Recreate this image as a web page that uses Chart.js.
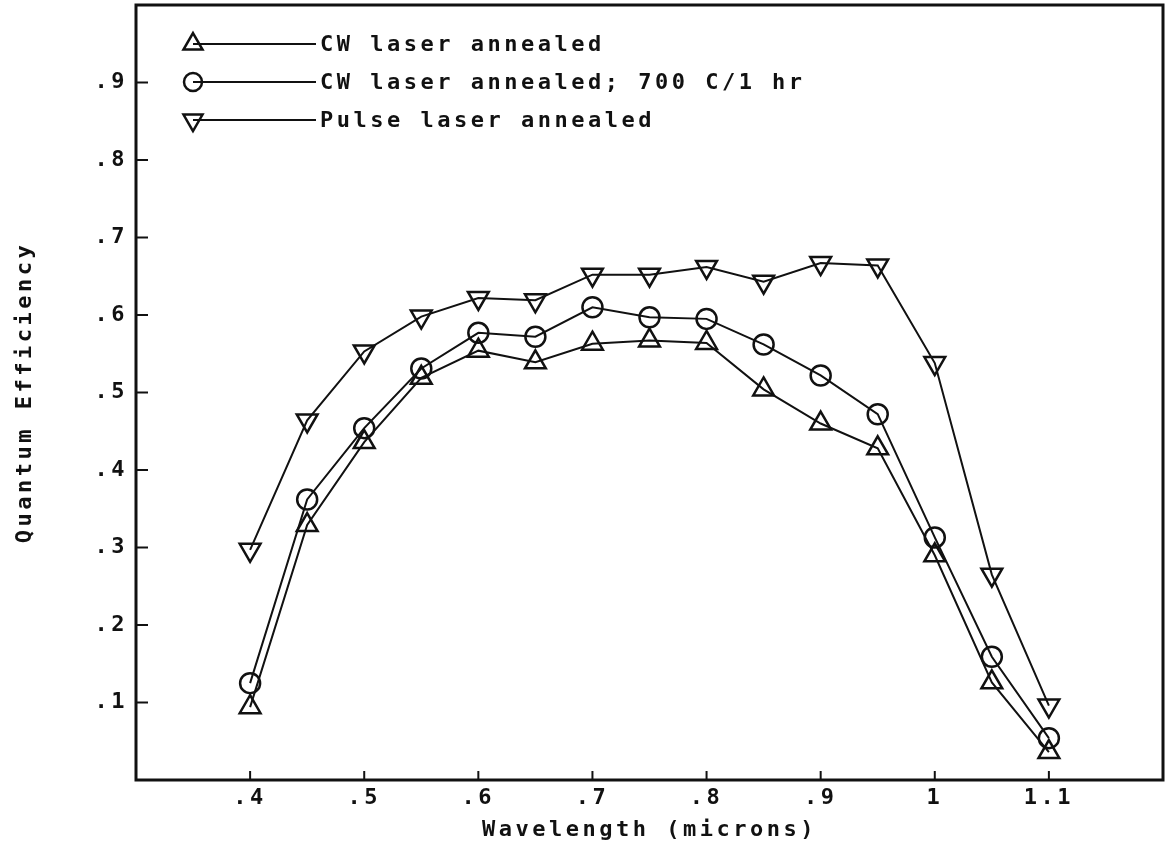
<!DOCTYPE html>
<html>
<head>
<meta charset="utf-8">
<script src="https://cdn.jsdelivr.net/npm/chart.js@4.4.1/dist/chart.umd.min.js"></script>
<style>
  html, body { margin: 0; padding: 0; background: #fff; }
</style>
</head>
<body>
<canvas id="qeChart" width="1171" height="849"></canvas>
<script>
const wavelengths = [0.40, 0.45, 0.50, 0.55, 0.60, 0.65, 0.70, 0.75, 0.80, 0.85, 0.90, 0.95, 1.00, 1.05, 1.10];
const cwAnnealed = [0.094, 0.329, 0.436, 0.519, 0.554, 0.539, 0.563, 0.567, 0.564, 0.504, 0.460, 0.428, 0.290, 0.126, 0.036];
const cwAnnealed700 = [0.125, 0.362, 0.454, 0.531, 0.577, 0.572, 0.610, 0.597, 0.595, 0.562, 0.522, 0.472, 0.313, 0.159, 0.054];
const pulseAnnealed = [0.297, 0.464, 0.553, 0.598, 0.622, 0.619, 0.652, 0.652, 0.662, 0.643, 0.667, 0.664, 0.538, 0.265, 0.096];

const seriesNames = ['CW laser annealed', 'CW laser annealed; 700 C/1 hr', 'Pulse laser annealed'];

const xTickValues = [0.4, 0.5, 0.6, 0.7, 0.8, 0.9, 1.0, 1.1];
const xTickLabels = ['.4', '.5', '.6', '.7', '.8', '.9', '1', '1.1'];
const yTickValues = [0.1, 0.2, 0.3, 0.4, 0.5, 0.6, 0.7, 0.8, 0.9];
const yTickLabels = ['.1', '.2', '.3', '.4', '.5', '.6', '.7', '.8', '.9'];

const INK = '#111111';
const FONT = { family: '"DejaVu Sans Mono", monospace', size: 22, weight: 'bold' };
const SPACING = '3.5px';

function toPoints(ys) {
  return wavelengths.map((x, i) => ({ x: x, y: ys[i] }));
}

// marker style per series: up triangle, circle, down triangle
const markers = [
  { pointStyle: 'triangle', rotation: 0, radius: 12 },
  { pointStyle: 'circle', rotation: 0, radius: 10 },
  { pointStyle: 'triangle', rotation: 180, radius: 12 },
];

function makeSet(label, ys, m) {
  return {
    label: label,
    data: toPoints(ys),
    showLine: true,
    borderColor: INK,
    borderWidth: 2,
    backgroundColor: 'rgba(0,0,0,0)',
    pointStyle: m.pointStyle,
    pointRotation: m.rotation,
    pointRadius: m.radius,
    pointBorderWidth: 2.5,
    pointBorderColor: INK,
    pointBackgroundColor: 'rgba(0,0,0,0)',
    tension: 0,
  };
}

const spacingPlugin = {
  id: 'spacing',
  beforeUpdate(chart) { chart.ctx.letterSpacing = SPACING; },
  beforeLayout(chart) { chart.ctx.letterSpacing = SPACING; },
  beforeDraw(chart) { chart.ctx.letterSpacing = SPACING; },
};

const framePlugin = {
  id: 'frame',
  afterDraw(chart) {
    const ctx = chart.ctx;
    const a = chart.chartArea;
    ctx.save();
    ctx.strokeStyle = INK;
    ctx.lineWidth = 3;
    ctx.strokeRect(a.left, a.top, a.right - a.left, a.bottom - a.top);

    // inward tick marks
    ctx.lineWidth = 2;
    const xs = chart.scales.x;
    xTickValues.forEach(v => {
      const px = xs.getPixelForValue(v);
      ctx.beginPath();
      ctx.moveTo(px, a.bottom);
      ctx.lineTo(px, a.bottom - 9);
      ctx.stroke();
    });
    const ys = chart.scales.y;
    yTickValues.forEach(v => {
      const py = ys.getPixelForValue(v);
      ctx.beginPath();
      ctx.moveTo(a.left, py);
      ctx.lineTo(a.left + 12, py);
      ctx.stroke();
    });
    ctx.restore();
  }
};

const legendPlugin = {
  id: 'plotLegend',
  afterDraw(chart) {
    const ctx = chart.ctx;
    const mx = 193, lineEnd = 316, textX = 320;
    const rows = [44, 82, 120];
    ctx.save();
    ctx.letterSpacing = SPACING;
    ctx.strokeStyle = INK;
    ctx.font = `${FONT.weight} ${FONT.size}px ${FONT.family}`;
    ctx.textBaseline = 'middle';
    chart.data.datasets.forEach((ds, i) => {
      const y = rows[i];
      ctx.lineWidth = 2;
      ctx.beginPath();
      ctx.moveTo(mx, y);
      ctx.lineTo(lineEnd, y);
      ctx.stroke();
      ctx.lineWidth = 2.5;
      ctx.fillStyle = 'rgba(0,0,0,0)';
      Chart.helpers.drawPoint(ctx, {
        pointStyle: markers[i].pointStyle,
        rotation: markers[i].rotation,
        radius: markers[i].radius - 1,
        borderWidth: 2.5
      }, mx, y);
      ctx.fillStyle = INK;
      ctx.fillText(ds.label, textX, y + 1);
    });
    ctx.restore();
  }
};

const ctx = document.getElementById('qeChart').getContext('2d');

const config = {
  type: 'scatter',
  data: {
    datasets: [
      makeSet(seriesNames[0], cwAnnealed, markers[0]),
      makeSet(seriesNames[1], cwAnnealed700, markers[1]),
      makeSet(seriesNames[2], pulseAnnealed, markers[2]),
    ]
  },
  options: {
    responsive: false,
    animation: false,
    devicePixelRatio: 1,
    layout: { autoPadding: false, padding: { left: 0, top: 5, right: 8, bottom: 0 } },
    plugins: {
      legend: { display: false },
      tooltip: { enabled: false },
    },
    scales: {
      x: {
        type: 'linear',
        min: 0.3,
        max: 1.2,
        afterBuildTicks(scale) {
          scale.ticks = xTickValues.map(v => ({ value: v }));
        },
        afterFit(scale) {
          scale.height = 69;
          scale.paddingLeft = 0;
          scale.paddingRight = 0;
        },
        grid: { display: false, drawTicks: false },
        border: { display: false },
        ticks: {
          color: INK,
          font: FONT,
          padding: 5,
          maxRotation: 0,
          autoSkip: false,
          callback(value, index) { return xTickLabels[index]; }
        },
        title: {
          display: true,
          text: 'Wavelength (microns)',
          color: INK,
          font: FONT,
          padding: { top: 0, bottom: 6 }
        }
      },
      y: {
        type: 'linear',
        min: 0,
        max: 1,
        afterBuildTicks(scale) {
          scale.ticks = yTickValues.map(v => ({ value: v }));
        },
        afterFit(scale) {
          scale.width = 136;
          scale.paddingTop = 0;
          scale.paddingBottom = 0;
        },
        grid: { display: false, drawTicks: false },
        border: { display: false },
        ticks: {
          color: INK,
          font: FONT,
          padding: 8,
          autoSkip: false,
          callback(value, index) { return yTickLabels[index]; }
        },
        title: {
          display: true,
          text: 'Quantum Efficiency',
          color: INK,
          font: FONT,
          padding: { top: 12, bottom: 0 }
        }
      }
    }
  },
  plugins: [spacingPlugin, framePlugin, legendPlugin]
};

const qeChart = new Chart(ctx, config);
</script>
</body>
</html>
